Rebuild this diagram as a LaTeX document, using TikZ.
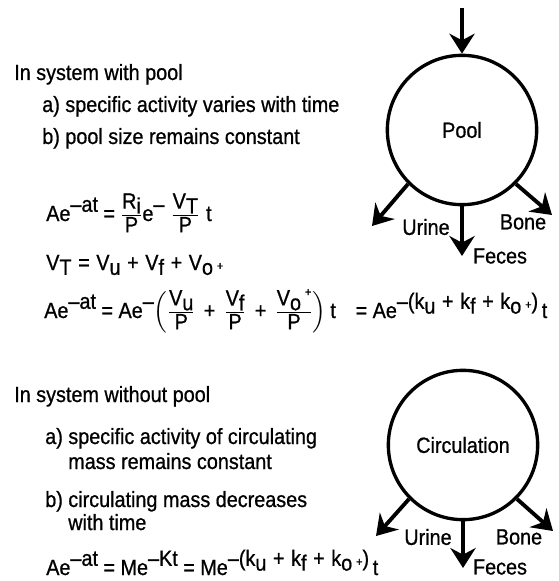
\documentclass[tikz,border=0pt]{standalone}
\usepackage{amsmath}
\usepackage{fontspec}
\setmainfont{Liberation Sans}[FakeStretch=0.9,FakeBold=0.8]
\usetikzlibrary{arrows.meta}
\newcommand{\myup}[1]{\raisebox{0.42em}{#1}}
\newcommand{\mydn}[1]{\raisebox{-0.22em}{#1}}
\newcommand{\myfr}[2]{\ensuremath{\genfrac{}{}{0.9pt}{1}{\hbox{#1}}{\hbox{#2}}}}
\newcommand{\gap}{\hspace{0.3em}}
\newcommand{\pl}{\mbox{\hspace{0.4em}+\hspace{0.4em}}}
\newcommand{\myplus}{\hspace{0.18em}{\small +}}
\begin{document}
\begin{tikzpicture}[x=0.75pt,y=-0.75pt,
  txt/.style={anchor=base west, inner sep=0pt, font=\fontsize{16.5}{19}\selectfont},
  lbl/.style={inner sep=0pt, font=\fontsize{16.5}{19}\selectfont},
  ball/.style={circle, draw, line width=2.5pt, minimum size=112pt, inner sep=0pt, font=\fontsize{16.5}{19}\selectfont},
  arr/.style={line width=2.9pt, -{Stealth[length=15pt,width=19pt,inset=5pt]}}]
\useasboundingbox (0,0) rectangle (559,581);
% upper block
\node[txt] (t1) at (14,80) {In system with pool};
\node[txt] (t2) at (42,112) {a) specific activity varies with time};
\node[txt] (t3) at (42,144) {b) pool size remains constant};
\node[txt] (e1) at (46,221) {Ae\myup{–at} = \myfr{R\mydn{i}}{P}e\myup{–}\gap\myfr{V\mydn{T}}{P}\gap t};
\node[txt] (e2) at (46,270) {V\mydn{T}\gap=\gap V\mydn{u}\gap+\gap V\mydn{f}\gap+\gap V\mydn{o}\myplus};
\node[txt] (e3) at (44,318) {Ae\myup{–at} = Ae\myup{–}$\Bigl(\myfr{V\mydn{u}}{P}\pl\myfr{V\mydn{f}}{P}\pl\myfr{V\mydn{o}\hspace{0.18em}\myup{\small +}}{P}\Bigr)$\,t\hspace{0.9em}= Ae\myup{–(k\mydn{u}\gap+\gap k\mydn{f}\gap+\gap k\mydn{o}\myplus)}\,t};
% lower block
\node[txt] (t4) at (14,402) {In system without pool};
\node[txt] (t5) at (45,444) {a) specific activity of circulating};
\node[txt] (t6) at (68,469) {mass remains constant};
\node[txt] (t7) at (45,507) {b) circulating mass decreases};
\node[txt] (t8) at (68,530) {with time};
\node[txt] (e4) at (46,575) {Ae\myup{–at} = Me\myup{–Kt} = Me\myup{–(k\mydn{u}\gap+\gap k\mydn{f}\gap+\gap k\mydn{o}\myplus)}\,t};
% pool diagram
\node[ball] (pool) at (462,130) {Pool};
\coordinate (in) at (462,8);
\coordinate (pu) at (372,226);
\coordinate (pf) at (462,256);
\coordinate (pb) at (552,215);
\draw[arr] (in) -- (pool.north);
\draw[arr] (pool.-135) -- (pu);
\draw[arr] (pool.south) -- (pf);
\draw[arr] (pool.-45) -- (pb);
\node[lbl] (lu1) at (426,227) {Urine};
\node[lbl] (lf1) at (500,256) {Feces};
\node[lbl] (lb1) at (523,222) {Bone};
% circulation diagram
\node[ball] (circ) at (463,445) {Circulation};
\coordinate (cu) at (376,536);
\coordinate (cf) at (463,568);
\coordinate (cb) at (553,531);
\draw[arr] (circ.-135) -- (cu);
\draw[arr] (circ.south) -- (cf);
\draw[arr] (circ.-45) -- (cb);
\node[lbl] (lu2) at (428,537) {Urine};
\node[lbl] (lf2) at (500,567) {Feces};
\node[lbl] (lb2) at (519,537) {Bone};
\end{tikzpicture}
\end{document}
